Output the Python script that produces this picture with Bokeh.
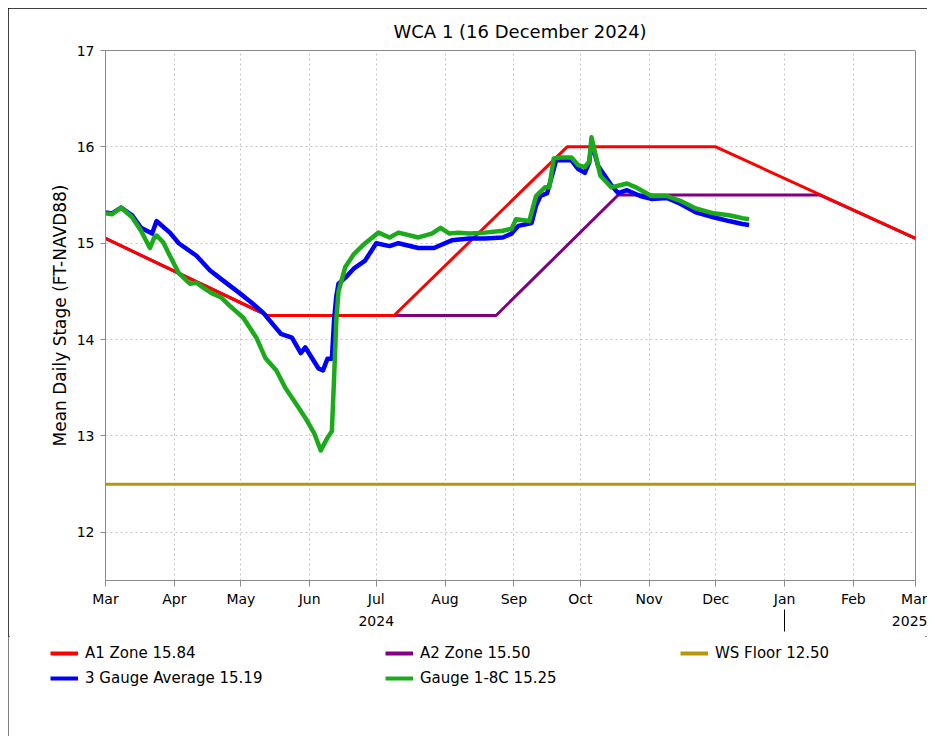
import pandas as pd
from bokeh.plotting import figure
from bokeh.layouts import column
from bokeh.models import (FixedTicker, DatetimeTickFormatter, DatetimeAxis, Legend,
                          LegendItem, Range1d)
from bokeh.embed import file_html
from bokeh.resources import INLINE

# ---------------- data ----------------
a1_dates = ["2024-03-01", "2024-05-13", "2024-07-09", "2024-09-25", "2024-12-01", "2025-03-01"]
a1_vals = [15.05, 14.25, 14.25, 16.00, 16.00, 15.05]

a2_dates = ["2024-03-01", "2024-05-13", "2024-08-24", "2024-10-18", "2025-01-17", "2025-03-01"]
a2_vals = [15.05, 14.25, 14.25, 15.50, 15.50, 15.05]

ws_dates = ["2024-03-01", "2025-03-01"]
ws_vals = [12.5, 12.5]

avg_dates = ["2024-03-01", "2024-03-04", "2024-03-08", "2024-03-13", "2024-03-17", "2024-03-22",
             "2024-03-24", "2024-03-25", "2024-03-30", "2024-04-03", "2024-04-11", "2024-04-17",
             "2024-04-22", "2024-04-30", "2024-05-06", "2024-05-11", "2024-05-19", "2024-05-24",
             "2024-05-28", "2024-05-30", "2024-06-05", "2024-06-07", "2024-06-09", "2024-06-11",
             "2024-06-12", "2024-06-13", "2024-06-14", "2024-06-17", "2024-06-21", "2024-06-26",
             "2024-07-01", "2024-07-07", "2024-07-11", "2024-07-20", "2024-07-27", "2024-08-04",
             "2024-08-12", "2024-08-19", "2024-08-27", "2024-08-31", "2024-09-03", "2024-09-09",
             "2024-09-11", "2024-09-13", "2024-09-16", "2024-09-19", "2024-09-20", "2024-09-27",
             "2024-09-30", "2024-10-03", "2024-10-05", "2024-10-06", "2024-10-09", "2024-10-12",
             "2024-10-15", "2024-10-18", "2024-10-22", "2024-10-28", "2024-11-02", "2024-11-09",
             "2024-11-15", "2024-11-22", "2024-11-30", "2024-12-07", "2024-12-13", "2024-12-16"]
avg_vals = [15.32, 15.31, 15.37, 15.29, 15.16, 15.10,
            15.23, 15.21, 15.11, 15.00, 14.87, 14.72,
            14.63, 14.49, 14.38, 14.28, 14.06, 14.02,
            13.86, 13.92, 13.70, 13.68, 13.80, 13.80,
            14.20, 14.45, 14.58, 14.64, 14.74, 14.82,
            15.00, 14.97, 15.00, 14.95, 14.95, 15.03,
            15.05, 15.05, 15.06, 15.10, 15.18, 15.21,
            15.39, 15.49, 15.52, 15.77, 15.86, 15.86,
            15.77, 15.73, 15.84, 16.05, 15.80, 15.70,
            15.60, 15.52, 15.55, 15.49, 15.46, 15.47,
            15.41, 15.32, 15.27, 15.23, 15.20, 15.19]

g18c_dates = ["2024-03-01", "2024-03-04", "2024-03-08", "2024-03-13", "2024-03-17", "2024-03-21",
              "2024-03-23", "2024-03-24", "2024-03-27", "2024-03-30", "2024-04-03", "2024-04-08",
              "2024-04-11", "2024-04-14", "2024-04-18", "2024-04-22", "2024-04-26", "2024-05-02",
              "2024-05-08", "2024-05-12", "2024-05-17", "2024-05-21", "2024-05-26", "2024-05-30",
              "2024-06-03", "2024-06-06", "2024-06-09", "2024-06-11", "2024-06-12", "2024-06-13",
              "2024-06-14", "2024-06-17", "2024-06-21", "2024-06-26", "2024-07-02", "2024-07-07",
              "2024-07-11", "2024-07-20", "2024-07-26", "2024-07-30", "2024-08-03", "2024-08-07",
              "2024-08-12", "2024-08-19", "2024-08-27", "2024-08-31", "2024-09-02", "2024-09-08",
              "2024-09-09", "2024-09-11", "2024-09-15", "2024-09-17", "2024-09-19", "2024-09-22",
              "2024-09-27", "2024-09-30", "2024-10-03", "2024-10-05", "2024-10-06", "2024-10-08",
              "2024-10-10", "2024-10-15", "2024-10-22", "2024-10-26", "2024-11-02", "2024-11-09",
              "2024-11-15", "2024-11-22", "2024-11-30", "2024-12-07", "2024-12-13", "2024-12-16"]
g18c_vals = [15.31, 15.30, 15.37, 15.27, 15.13, 14.95,
             15.06, 15.08, 15.01, 14.87, 14.69, 14.58,
             14.59, 14.54, 14.48, 14.44, 14.35, 14.23,
             14.02, 13.81, 13.68, 13.50, 13.33, 13.19,
             13.03, 12.85, 12.98, 13.05, 13.60, 14.20,
             14.50, 14.75, 14.89, 15.00, 15.11, 15.06,
             15.11, 15.06, 15.10, 15.16, 15.10, 15.11,
             15.10, 15.11, 15.13, 15.15, 15.25, 15.23,
             15.32, 15.49, 15.58, 15.58, 15.88, 15.89,
             15.89, 15.81, 15.79, 15.85, 16.10, 15.90,
             15.70, 15.58, 15.62, 15.58, 15.49, 15.49,
             15.44, 15.36, 15.31, 15.29, 15.26, 15.25]

month_ticks = ["2024-03-01", "2024-04-01", "2024-05-01", "2024-06-01", "2024-07-01", "2024-08-01",
               "2024-09-01", "2024-10-01", "2024-11-01", "2024-12-01", "2025-01-01", "2025-02-01",
               "2025-03-01"]
year_ticks = ["2024-07-01", "2025-03-01"]
year_sep = ["2025-01-01"]
y_ticks = [12, 13, 14, 15, 16, 17]

labels = {
    "a1": "A1 Zone 15.84",
    "a2": "A2 Zone 15.50",
    "ws": "WS Floor 12.50",
    "avg": "3 Gauge Average 15.19",
    "g": "Gauge 1-8C 15.25",
}
series = {
    "a1": (a1_dates, a1_vals),
    "a2": (a2_dates, a2_vals),
    "ws": (ws_dates, ws_vals),
    "avg": (avg_dates, avg_vals),
    "g": (g18c_dates, g18c_vals),
}
colors = {"a1": "#ff0000", "a2": "#800080", "ws": "#b8960c", "avg": "#0000ff", "g": "#1aaa1a"}
widths = {"a1": 3, "a2": 3, "ws": 3, "avg": 4.5, "g": 4.5}

def ms(d):
    return pd.Timestamp(d).timestamp() * 1000.0

FONT = "DejaVu Sans"
GRID = "#c4c4c4"
AX = "#8a8a8a"

# ---------------- main chart ----------------
p = figure(x_axis_type="datetime", frame_width=810, frame_height=530,
           min_border_left=97, min_border_right=12, min_border_top=42, min_border_bottom=56,
           x_range=Range1d(ms("2024-03-01"), ms("2025-03-01")),
           y_range=Range1d(11.5, 17.0),
           output_backend="svg", toolbar_location=None,
           title="WCA 1 (16 December 2024)")

p.title.align = "left"
p.title.offset = 288
p.title.standoff = 18
p.title.text_font = FONT
p.title.text_font_size = "18px"
p.title.text_font_style = "normal"
p.title.text_color = "black"

p.outline_line_color = AX
p.outline_line_width = 1

xa = p.xaxis[0]
xa.ticker = FixedTicker(ticks=[ms(d) for d in month_ticks])
xa.formatter = DatetimeTickFormatter(months="%b", days="%b", years="%b")
xa.major_label_text_font = FONT
xa.major_label_text_font_size = "14px"
xa.major_label_text_color = "black"
xa.axis_line_color = AX
xa.major_tick_line_color = AX
xa.major_tick_out = 6
xa.major_tick_in = 0
xa.minor_tick_line_color = None
xa.major_label_standoff = 4

ya2 = DatetimeAxis(ticker=FixedTicker(ticks=[ms(d) for d in year_ticks],
                                      minor_ticks=[ms(d) for d in year_sep]),
                   formatter=DatetimeTickFormatter(months="%Y", days="%Y", years="%Y"))
ya2.axis_line_color = None
ya2.major_tick_line_color = None
ya2.major_tick_out = 0
ya2.major_tick_in = 0
ya2.minor_tick_line_color = "black"
ya2.minor_tick_out = 22
ya2.minor_tick_in = 0
ya2.major_label_standoff = -16
ya2.major_label_text_font = FONT
ya2.major_label_text_font_size = "14px"
ya2.major_label_text_color = "black"
p.add_layout(ya2, "below")

yx = p.yaxis[0]
yx.ticker = FixedTicker(ticks=y_ticks)
yx.major_label_text_font = FONT
yx.major_label_text_font_size = "14px"
yx.major_label_text_color = "black"
yx.axis_line_color = AX
yx.major_tick_line_color = AX
yx.major_tick_out = 5
yx.major_tick_in = 0
yx.minor_tick_line_color = None
yx.major_label_standoff = 6
yx.axis_label = "Mean Daily Stage (FT-NAVD88)"
yx.axis_label_text_font = FONT
yx.axis_label_text_font_size = "17px"
yx.axis_label_text_font_style = "normal"
yx.axis_label_text_color = "black"
yx.axis_label_standoff = 4

p.xgrid.ticker = FixedTicker(ticks=[ms(d) for d in month_ticks])
p.ygrid.ticker = FixedTicker(ticks=y_ticks)
for g in (p.xgrid[0], p.ygrid[0]):
    g.grid_line_color = GRID
    g.grid_line_dash = "2 3"
    g.grid_line_width = 1

for k in ["ws", "a2", "a1", "avg", "g"]:
    d, v = series[k]
    p.line(pd.to_datetime(d), v, line_color=colors[k], line_width=widths[k], line_join="round")

# ---------------- legend strip ----------------
q = figure(width=919, height=100, x_range=Range1d(0, 1), y_range=Range1d(0, 1),
           x_axis_location=None, y_axis_location=None,
           min_border=0, output_backend="svg", toolbar_location=None)
q.outline_line_color = None
q.xgrid.visible = False
q.ygrid.visible = False
aligned = True
if "frame_align" in q.properties():
    q.frame_align = False
    aligned = False
x0 = -97 if aligned else 0

def style_legend(lg):
    lg.padding = 0
    lg.margin = 0
    lg.spacing = 0
    lg.border_line_color = None
    lg.background_fill_alpha = 0
    lg.label_text_font = FONT
    lg.label_text_font_size = "15px"
    lg.label_text_color = "black"
    lg.glyph_width = 28
    lg.glyph_height = 20
    lg.label_height = 25
    lg.label_standoff = 7

leg_r = {}
for k in ["a1", "avg", "a2", "g", "ws"]:
    d, v = series[k]
    leg_r[k] = q.line(pd.to_datetime(d), v, line_color=colors[k], line_width=4)

lgA = Legend(items=[LegendItem(label=labels[k], renderers=[leg_r[k]])
                    for k in ["a1", "avg", "a2", "g"]],
             orientation="vertical", nrows=2, location=(x0 + 42, 46))
style_legend(lgA)
lgA.label_width = 300
lgB = Legend(items=[LegendItem(label=labels["ws"], renderers=[leg_r["ws"]])],
             orientation="vertical", location=(x0 + 672, 71))
style_legend(lgB)
q.add_layout(lgA, "center")
q.add_layout(lgB, "center")

layout = column(p, q, spacing=0,
                styles={"outline": "2px solid black", "outline-offset": "-2px",
                        "margin-left": "8px", "margin-top": "8px"})

open("out.html", "w").write(file_html(layout, INLINE))
